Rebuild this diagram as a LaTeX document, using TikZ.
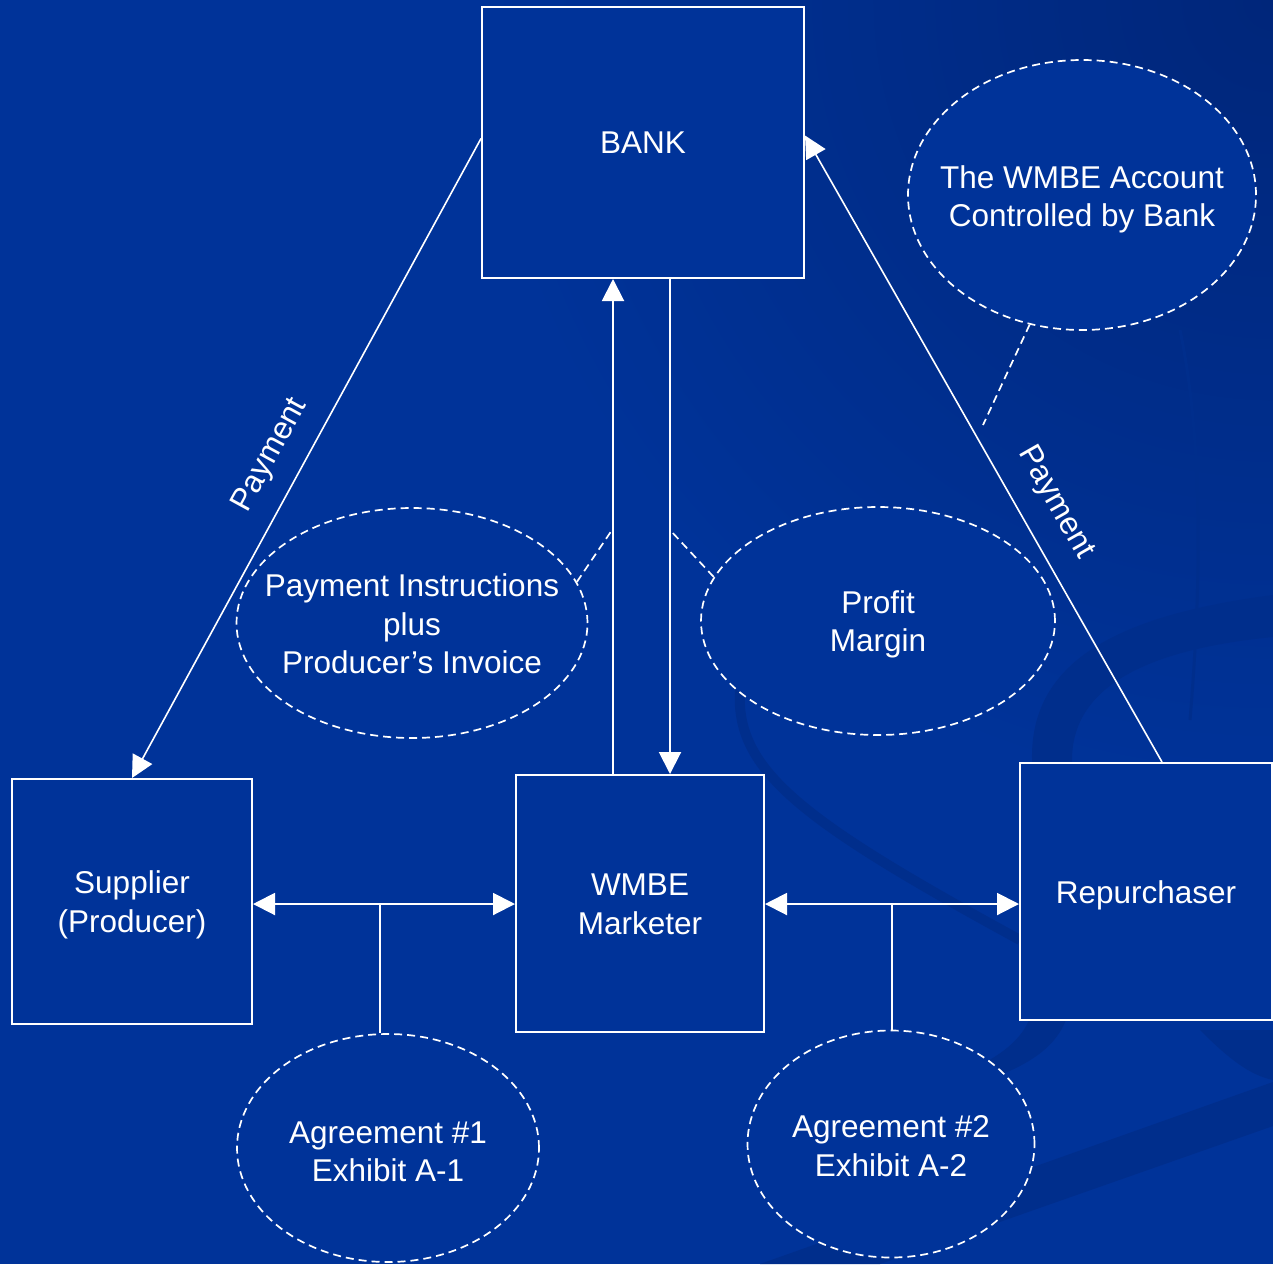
\documentclass[tikz,border=0pt]{standalone}
\usepackage{fontspec}
\setmainfont{Liberation Sans}
\usetikzlibrary{arrows.meta,shapes.geometric}
\definecolor{bg}{RGB}{0,51,153}
\definecolor{bgdark}{RGB}{0,38,122}
\definecolor{swoosh}{RGB}{0,46,140}
\begin{document}
\begin{tikzpicture}[x=1pt,y=-1pt,
  txt/.style={text=white, font=\fontsize{31.5}{38.5}\selectfont, align=center, inner sep=0pt},
  box/.style={draw=white, line width=2pt, fill=bg, inner sep=0pt},
  bubble/.style={ellipse, draw=white, line width=1.7pt, dash pattern=on 8pt off 5pt, fill=bg, inner sep=0pt},
  tip/.style={-{Triangle[length=22pt,width=22pt]}},
  conn/.style={draw=white, line width=2pt},
  arr/.style={conn, tip},
  darr/.style={conn, {Triangle[length=22pt,width=22pt]}-{Triangle[length=22pt,width=22pt]}},
  parr/.style={draw=white, line width=1.6pt, tip},
  callout/.style={draw=white, line width=1.7pt, dash pattern=on 8pt off 5pt},
  lbl/.style={text=white, font=\fontsize{31.5}{38.5}\selectfont, inner xsep=0pt, sloped, anchor=south}
]
\useasboundingbox (0,0) rectangle (1273,1264);
% background
\fill[bg] (0,0) rectangle (1273,1264);
\begin{scope}
  \clip (0,0) rectangle (1273,1264);
  \shade[inner color=bgdark, outer color=bg] (1273,0) circle (800);
  \fill[swoosh] (1273,595) .. controls (1120,615) and (1030,660) .. (1032,760)
     -- (1035,990) .. controls (1035,1030) and (1010,1050) .. (975,1068)
     -- (1000,1075) .. controls (1050,1055) and (1070,1030) .. (1072,990)
     -- (1072,760) .. controls (1072,690) and (1140,650) .. (1273,637) -- cycle;
  \fill[swoosh] (1200,1030) .. controls (1230,1060) and (1250,1075) .. (1273,1080) -- (1273,1030) -- cycle;
  \fill[swoosh] (760,1264) -- (1273,1082) -- (1273,1126) -- (880,1264) -- cycle;
  \draw[swoosh, line width=10pt] (740,690) .. controls (735,770) and (800,820) .. (1020,940);
  \draw[swoosh, line width=3pt] (1180,330) .. controls (1205,450) and (1200,600) .. (1190,720);
\end{scope}

% boxes
\node[box, minimum width=322pt, minimum height=271pt] (bank) at (643,142.5) {};
\node[box, minimum width=240pt, minimum height=245pt] (sup) at (132,901.5) {};
\node[box, minimum width=248pt, minimum height=257pt] (wm) at (640,903.5) {};
\node[box, minimum width=252pt, minimum height=257pt] (rep) at (1146,891.5) {};
\node[txt] (bankt) at (643,142.5) {BANK};
\node[txt] (supt) at (132,905) {Supplier\\(Producer)};
\node[txt] (wmt) at (640,904.5) {WMBE\\Marketer};
\node[txt] (rept) at (1146,895.5) {Repurchaser};

% bubbles
\node[bubble, minimum width=348pt, minimum height=270pt] (acct) at (1082,195) {};
\node[bubble, minimum width=351pt, minimum height=230pt] (pi) at (412,623) {};
\node[bubble, minimum width=354pt, minimum height=228pt] (pm) at (878,621) {};
\node[bubble, minimum width=302pt, minimum height=228pt] (ag1) at (388,1148) {};
\node[bubble, minimum width=287pt, minimum height=227pt] (ag2) at (891,1144) {};
\node[txt] (acctt) at (1082,199.5) {The WMBE Account\\Controlled by Bank};
\node[txt] (pit) at (412,624) {Payment Instructions\\plus\\Producer’s Invoice};
\node[txt] (pmt) at (878,624.5) {Profit\\Margin};
\node[txt] (ag1t) at (388,1152) {Agreement \#1\\Exhibit A-1};
\node[txt] (ag2t) at (891,1146) {Agreement \#2\\Exhibit A-2};

% helper coordinates
\coordinate (vu) at (613,0);
\coordinate (vd) at (670,0);
\coordinate (hy) at (0,904);
\coordinate (s1) at (380,904);
\coordinate (s2) at (892,904);
\coordinate (cA) at (983,425);
\coordinate (cB) at (612,530);
\coordinate (cC) at (670,530);

% payment lines
\draw[parr] ([yshift=4pt]bank.west) -- node[lbl, pos=0.52, inner ysep=18pt] {Payment} (sup.north);
\draw[parr] ([xshift=143pt]rep.north west) -- node[lbl, pos=0.386, inner ysep=21pt] {Payment} ([yshift=7pt]bank.east);

% vertical arrows
\draw[arr] (wm.north -| vu) -- (bank.south -| vu);
\draw[arr] (bank.south -| vd) -- (wm.north -| vd);

% horizontal double arrows and stems
\draw[darr] (sup.east |- hy) -- (wm.west |- hy);
\draw[darr] (wm.east |- hy) -- (rep.west |- hy);
\draw[conn] (s1) -- (s1 |- ag1.north);
\draw[conn] (s2) -- (s2 |- ag2.north);

% callouts
\draw[callout] (acct.-112.6) -- (cA);
\draw[callout] (pi.14.5) -- (cB);
\draw[callout] (pm.165) -- (cC);
\end{tikzpicture}
\end{document}
